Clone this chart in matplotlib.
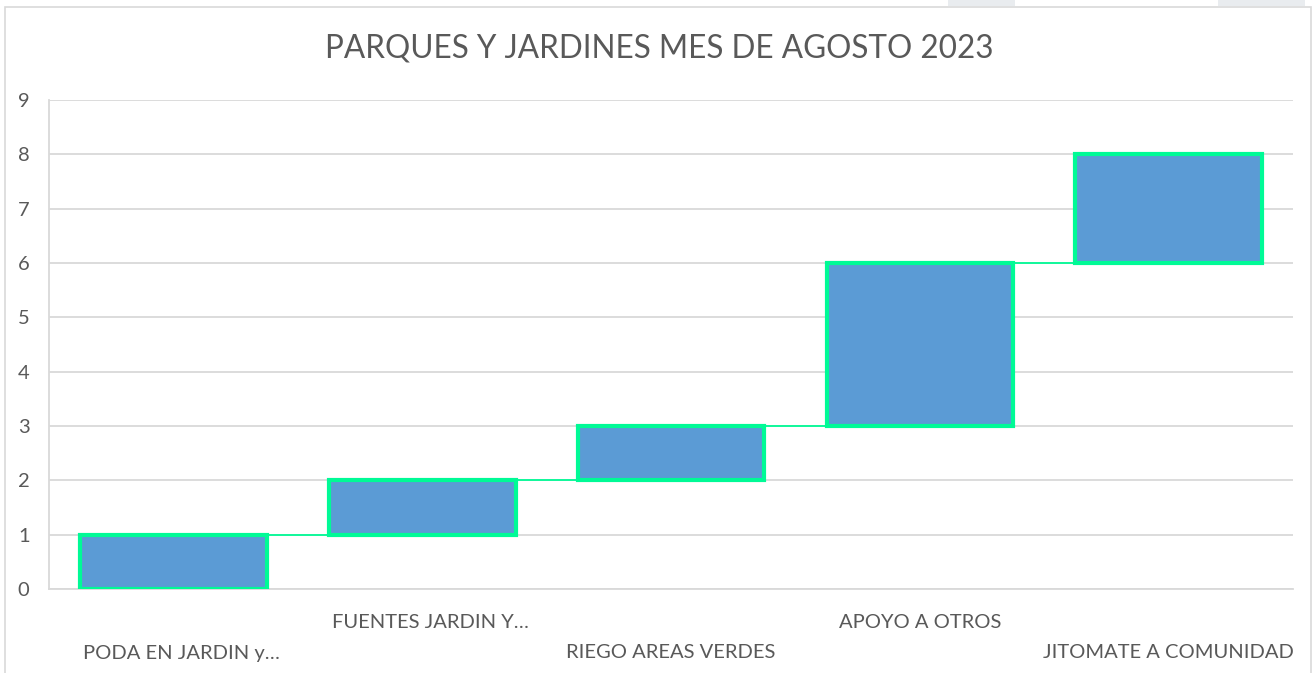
import matplotlib
matplotlib.use("Agg")
import matplotlib.pyplot as plt
from matplotlib.patches import Rectangle
import matplotlib.transforms as mtransforms

categories = ["PODA EN JARDIN y…", "FUENTES JARDIN Y…", "RIEGO AREAS VERDES",
              "APOYO A OTROS", "JITOMATE A COMUNIDAD"]
values = [1, 1, 1, 3, 2]
title = "PARQUES Y JARDINES MES DE AGOSTO 2023"
yticks = list(range(0, 10))

bases = []
acc = 0
for v in values:
    bases.append(acc)
    acc += v

W, H = 1316, 673
fig = plt.figure(figsize=(W / 100, H / 100), dpi=100)
fig.patch.set_facecolor("white")

# chart frame and surrounding bits
fig.patches.append(Rectangle((5 / W, -0.01), (1311 - 5) / W, (H - 7) / H + 0.01,
                             transform=fig.transFigure, fill=False,
                             edgecolor="#D9D9D9", linewidth=1.2))
for x0, x1 in [(948, 1015), (1218, 1305)]:
    fig.patches.append(Rectangle((x0 / W, (H - 6) / H), (x1 - x0) / W, 6 / H,
                                 transform=fig.transFigure, facecolor="#E9ECEF",
                                 edgecolor="none"))

left, right, top, bottom = 49, 1293, 100, 589
ax = fig.add_axes([left / W, (H - bottom) / H, (right - left) / W, (bottom - top) / H])
ax.set_xlim(-0.5, len(categories) - 0.5)
ax.set_ylim(0, 9)

green = "#00FA96"
blue = "#5B9BD5"
bw = 0.75
ax.bar(range(len(values)), values, bottom=bases, width=bw, color=blue,
       edgecolor=green, linewidth=3, zorder=3)

for i in range(len(values) - 1):
    lvl = bases[i] + values[i]
    ax.plot([i + bw / 2, i + 1 - bw / 2], [lvl, lvl], color=green, linewidth=1.3,
            zorder=2, solid_capstyle="butt")

ax.set_yticks(yticks)
ax.set_yticklabels([str(t) for t in yticks], fontsize=14.5, color="#595959", family="Lato")
ax.tick_params(axis="y", length=0, pad=14)
ax.grid(axis="y", color="#D9D9D9", linewidth=1.3, zorder=0)
ax.set_axisbelow(True)
for s in ["top", "right"]:
    ax.spines[s].set_visible(False)
ax.spines["left"].set_color("#D9D9D9")
ax.spines["left"].set_linewidth(1.3)
ax.spines["bottom"].set_color("#D9D9D9")
ax.spines["bottom"].set_linewidth(1.3)

ax.set_xticks([])
trans = mtransforms.blended_transform_factory(ax.transData, ax.transAxes)
for i, c in enumerate(categories):
    off = -33 if i % 2 == 1 else -64
    dx = 8 if c.endswith("…") else 0
    ax.annotate(c, xy=(i, 0), xycoords=trans, xytext=(dx, off), textcoords="offset pixels",
                ha="center", va="center", fontsize=14.5, color="#595959", family="Lato",
                annotation_clip=False)

fig.text((327 + 992) / 2 / W, (H - 49) / H, title, ha="center", va="center",
         fontsize=22.7, color="#595959", family="Lato")

fig.savefig("out.png", dpi=100)
